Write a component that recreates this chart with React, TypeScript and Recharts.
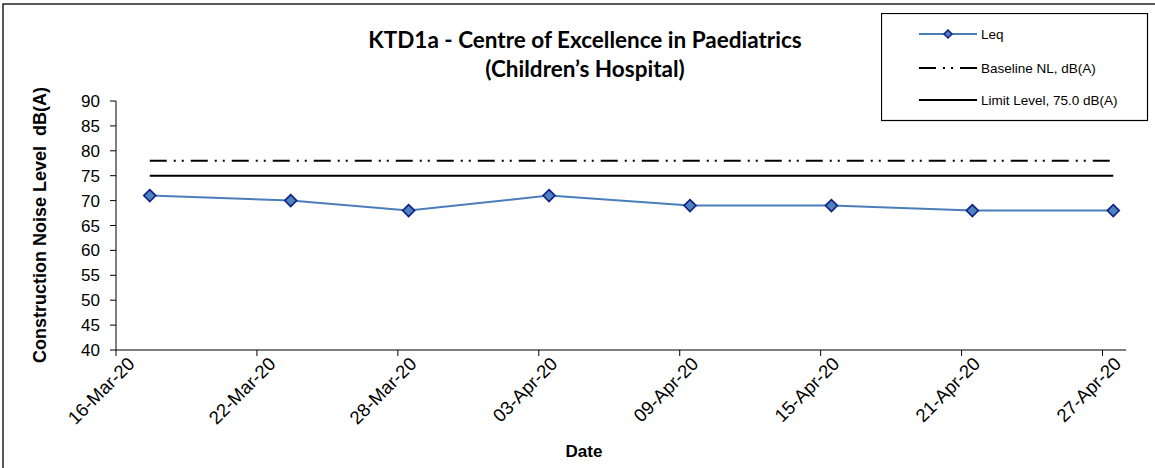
import { LineChart, Line, XAxis, YAxis } from "recharts";

// measurement dates (sampling time ~ late morning)
const sampleDates = [
  "2020-03-17T10:30",
  "2020-03-23T10:30",
  "2020-03-28T11:00",
  "2020-04-03T10:30",
  "2020-04-09T10:30",
  "2020-04-15T11:00",
  "2020-04-21T11:00",
  "2020-04-27T11:00",
];
const leqValues = [71, 70, 68, 71, 69, 69, 68, 68];
const baselineValues = [78, 78, 78, 78, 78, 78, 78, 78];
const limitValues = [75, 75, 75, 75, 75, 75, 75, 75];

const tickDates = [
  "2020-03-16",
  "2020-03-22",
  "2020-03-28",
  "2020-04-03",
  "2020-04-09",
  "2020-04-15",
  "2020-04-21",
  "2020-04-27",
];
const tickLabels = [
  "16-Mar-20",
  "22-Mar-20",
  "28-Mar-20",
  "03-Apr-20",
  "09-Apr-20",
  "15-Apr-20",
  "21-Apr-20",
  "27-Apr-20",
];
const axisEndDate = "2020-04-28";
const yTicks = [40, 45, 50, 55, 60, 65, 70, 75, 80, 85, 90];

const DAY = 86400000;
const origin = Date.parse(tickDates[0] + "T00:00:00Z");
const toDay = (s: string) =>
  (Date.parse((s.length === 10 ? s + "T00:00" : s) + ":00Z") - origin) / DAY;

const tickDays = tickDates.map(toDay);
const labelByDay = new Map(tickDays.map((d, i) => [d, tickLabels[i]]));

const data = sampleDates.map((d, i) => ({
  day: toDay(d),
  leq: leqValues[i],
  baseline: baselineValues[i],
  limit: limitValues[i],
}));

const ARIAL = "'Liberation Sans', Arial, sans-serif";
const TITLE_FONT = "Lato, 'Open Sans', sans-serif";
const LEQ_COLOR = "#4A7EBB";
const BASELINE_DASH = "17 7 2 6 2 7";

function Diamond(props: any) {
  const { cx, cy } = props;
  if (cx == null || cy == null) return null;
  const r = 6;
  return (
    <path
      d={`M${cx},${cy - r}L${cx + r},${cy}L${cx},${cy + r}L${cx - r},${cy}Z`}
      fill="#4F81BD"
      stroke="#10208A"
      strokeWidth={1.6}
    />
  );
}

function DateTick(props: any) {
  const { x, y, payload } = props;
  return (
    <g transform={`translate(${x},${y})`}>
      <text
        x={9}
        y={19}
        transform="rotate(-45)"
        textAnchor="end"
        fontFamily={ARIAL}
        fontSize={18.5}
        fill="#000"
      >
        {labelByDay.get(payload.value) ?? ""}
      </text>
    </g>
  );
}

function LegendBox() {
  const rows = [
    { label: "Leq", kind: "leq" },
    { label: "Baseline NL, dB(A)", kind: "baseline" },
    { label: "Limit Level, 75.0 dB(A)", kind: "limit" },
  ];
  return (
    <svg
      width={268}
      height={109}
      style={{ position: "absolute", left: 881, top: 13 }}
    >
      <rect x={0.5} y={0.5} width={266} height={107} fill="#fff" stroke="#000" strokeWidth={1.2} />
      {rows.map((r, i) => {
        const y = [21, 55, 87][i];
        return (
          <g key={r.kind}>
            {r.kind === "leq" && (
              <>
                <line x1={38} x2={96} y1={y} y2={y} stroke={LEQ_COLOR} strokeWidth={2} />
                <path
                  d={`M67,${y - 4}L71,${y}L67,${y + 4}L63,${y}Z`}
                  fill="#4F81BD"
                  stroke="#10208A"
                  strokeWidth={1.5}
                />
              </>
            )}
            {r.kind === "baseline" && (
              <line x1={38} x2={96} y1={y} y2={y} stroke="#000" strokeWidth={2} strokeDasharray={BASELINE_DASH} />
            )}
            {r.kind === "limit" && (
              <line x1={38} x2={96} y1={y} y2={y} stroke="#000" strokeWidth={2} />
            )}
            <text x={100} y={y + 5} fontFamily={ARIAL} fontSize={13.5} fill="#000">
              {r.label}
            </text>
          </g>
        );
      })}
    </svg>
  );
}

export default function App() {
  return (
    <div style={{ position: "fixed", left: 0, top: 0, width: 1155, height: 468, background: "#fff" }}>
      <LineChart
        width={1155}
        height={468}
        data={data}
        margin={{ top: 101, right: 29, bottom: 48, left: 56 }}
      >
        <rect x={3} y={4} width={1170} height={480} fill="none" stroke="#000" strokeWidth={1.3} />
        <text x={585} y={48} textAnchor="middle" fontFamily={TITLE_FONT} fontWeight="bold" fontSize={22.5} fill="#000">
          KTD1a - Centre of Excellence in Paediatrics
        </text>
        <text x={585} y={77} textAnchor="middle" fontFamily={TITLE_FONT} fontWeight="bold" fontSize={22.5} fill="#000">
          (Children’s Hospital)
        </text>
        <text
          x={46}
          y={225}
          transform="rotate(-90, 46, 225)"
          textAnchor="middle"
          fontFamily={ARIAL}
          fontWeight="bold"
          fontSize={18}
          fill="#000"
          style={{ whiteSpace: "pre" }}
        >
          Construction Noise Level  dB(A)
        </text>
        <text x={584} y={457} textAnchor="middle" fontFamily={ARIAL} fontWeight="bold" fontSize={17} fill="#000">
          Date
        </text>
        <XAxis
          dataKey="day"
          type="number"
          domain={[0, toDay(axisEndDate)]}
          ticks={tickDays}
          tick={<DateTick />}
          interval={0}
          height={70}
          stroke="#000"
          tickLine={{ stroke: "#000" }}
          tickSize={6}
          allowDataOverflow
        />
        <YAxis
          type="number"
          domain={[40, 90]}
          ticks={yTicks}
          interval={0}
          width={60}
          stroke="#000"
          tickSize={6}
          tick={{ fill: "#000", fontFamily: ARIAL, fontSize: 17, dx: -8 }}
          allowDataOverflow
        />
        <Line
          dataKey="baseline"
          name="Baseline NL, dB(A)"
          stroke="#000"
          strokeWidth={2}
          strokeDasharray={BASELINE_DASH}
          dot={false}
          activeDot={false}
          isAnimationActive={false}
        />
        <Line
          dataKey="limit"
          name="Limit Level, 75.0 dB(A)"
          stroke="#000"
          strokeWidth={2}
          dot={false}
          activeDot={false}
          isAnimationActive={false}
        />
        <Line
          dataKey="leq"
          name="Leq"
          stroke={LEQ_COLOR}
          strokeWidth={2}
          dot={<Diamond />}
          activeDot={false}
          isAnimationActive={false}
        />
      </LineChart>
      <LegendBox />
    </div>
  );
}
